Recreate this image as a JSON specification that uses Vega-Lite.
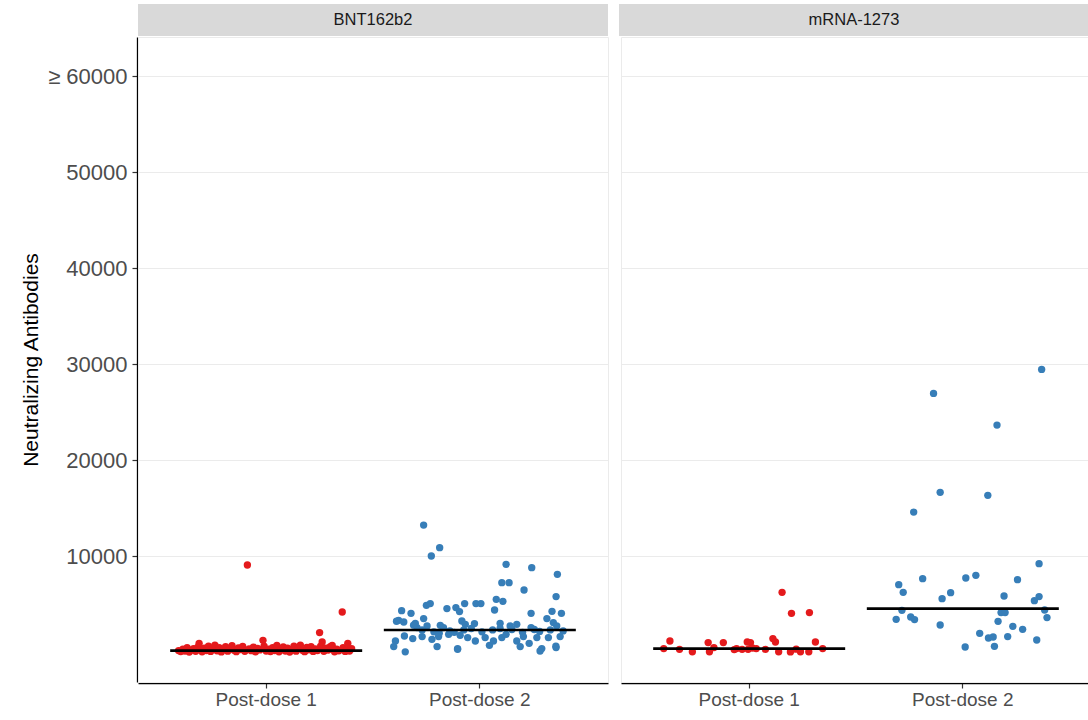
{
  "$schema": "https://vega.github.io/schema/vega-lite/v6.json",
  "padding": {"top": 4, "left": 20, "right": 0, "bottom": 0},
  "background": "white",
  "spacing": 0,
  "config": {
    "font": "Arial",
    "view": {"stroke": "#ebebeb"},
    "concat": {"spacing": 0}
  },
  "datasets": {
    "strip": [{"v": "BNT162b2"}, {"v": "mRNA-1273"}],
    "main": [
      {"v": "BNT162b2", "d": "Post-dose 1", "m": 150},
      {"v": "BNT162b2", "d": "Post-dose 2", "m": 2292},
      {"v": "mRNA-1273", "d": "Post-dose 1", "m": 354},
      {"v": "mRNA-1273", "d": "Post-dose 2", "m": 4521},

      {"v": "BNT162b2", "d": "Post-dose 1", "j": -0.41, "y": 150},
      {"v": "BNT162b2", "d": "Post-dose 1", "j": -0.40, "y": 50},
      {"v": "BNT162b2", "d": "Post-dose 1", "j": -0.39, "y": 300},
      {"v": "BNT162b2", "d": "Post-dose 1", "j": -0.38, "y": 100},
      {"v": "BNT162b2", "d": "Post-dose 1", "j": -0.37, "y": 450},
      {"v": "BNT162b2", "d": "Post-dose 1", "j": -0.36, "y": 0},
      {"v": "BNT162b2", "d": "Post-dose 1", "j": -0.35, "y": 200},
      {"v": "BNT162b2", "d": "Post-dose 1", "j": -0.34, "y": 350},
      {"v": "BNT162b2", "d": "Post-dose 1", "j": -0.33, "y": 80},
      {"v": "BNT162b2", "d": "Post-dose 1", "j": -0.32, "y": 500},
      {"v": "BNT162b2", "d": "Post-dose 1", "j": -0.314, "y": 906},
      {"v": "BNT162b2", "d": "Post-dose 1", "j": -0.31, "y": 250},
      {"v": "BNT162b2", "d": "Post-dose 1", "j": -0.30, "y": 30},
      {"v": "BNT162b2", "d": "Post-dose 1", "j": -0.29, "y": 400},
      {"v": "BNT162b2", "d": "Post-dose 1", "j": -0.28, "y": 150},
      {"v": "BNT162b2", "d": "Post-dose 1", "j": -0.27, "y": 600},
      {"v": "BNT162b2", "d": "Post-dose 1", "j": -0.26, "y": 60},
      {"v": "BNT162b2", "d": "Post-dose 1", "j": -0.25, "y": 300},
      {"v": "BNT162b2", "d": "Post-dose 1", "j": -0.24, "y": 700},
      {"v": "BNT162b2", "d": "Post-dose 1", "j": -0.23, "y": 120},
      {"v": "BNT162b2", "d": "Post-dose 1", "j": -0.22, "y": 450},
      {"v": "BNT162b2", "d": "Post-dose 1", "j": -0.21, "y": 10},
      {"v": "BNT162b2", "d": "Post-dose 1", "j": -0.20, "y": 250},
      {"v": "BNT162b2", "d": "Post-dose 1", "j": -0.19, "y": 550},
      {"v": "BNT162b2", "d": "Post-dose 1", "j": -0.18, "y": 90},
      {"v": "BNT162b2", "d": "Post-dose 1", "j": -0.17, "y": 350},
      {"v": "BNT162b2", "d": "Post-dose 1", "j": -0.16, "y": 650},
      {"v": "BNT162b2", "d": "Post-dose 1", "j": -0.15, "y": 180},
      {"v": "BNT162b2", "d": "Post-dose 1", "j": -0.14, "y": 40},
      {"v": "BNT162b2", "d": "Post-dose 1", "j": -0.13, "y": 420},
      {"v": "BNT162b2", "d": "Post-dose 1", "j": -0.12, "y": 260},
      {"v": "BNT162b2", "d": "Post-dose 1", "j": -0.11, "y": 580},
      {"v": "BNT162b2", "d": "Post-dose 1", "j": -0.10, "y": 70},
      {"v": "BNT162b2", "d": "Post-dose 1", "j": -0.088, "y": 9062},
      {"v": "BNT162b2", "d": "Post-dose 1", "j": -0.08, "y": 320},
      {"v": "BNT162b2", "d": "Post-dose 1", "j": -0.07, "y": 140},
      {"v": "BNT162b2", "d": "Post-dose 1", "j": -0.06, "y": 500},
      {"v": "BNT162b2", "d": "Post-dose 1", "j": -0.05, "y": 20},
      {"v": "BNT162b2", "d": "Post-dose 1", "j": -0.04, "y": 380},
      {"v": "BNT162b2", "d": "Post-dose 1", "j": -0.03, "y": 220},
      {"v": "BNT162b2", "d": "Post-dose 1", "j": -0.015, "y": 1219},
      {"v": "BNT162b2", "d": "Post-dose 1", "j": -0.01, "y": 600},
      {"v": "BNT162b2", "d": "Post-dose 1", "j": 0.0, "y": 100},
      {"v": "BNT162b2", "d": "Post-dose 1", "j": 0.01, "y": 300},
      {"v": "BNT162b2", "d": "Post-dose 1", "j": 0.02, "y": 50},
      {"v": "BNT162b2", "d": "Post-dose 1", "j": 0.03, "y": 450},
      {"v": "BNT162b2", "d": "Post-dose 1", "j": 0.04, "y": 160},
      {"v": "BNT162b2", "d": "Post-dose 1", "j": 0.05, "y": 680},
      {"v": "BNT162b2", "d": "Post-dose 1", "j": 0.06, "y": 30},
      {"v": "BNT162b2", "d": "Post-dose 1", "j": 0.07, "y": 240},
      {"v": "BNT162b2", "d": "Post-dose 1", "j": 0.08, "y": 520},
      {"v": "BNT162b2", "d": "Post-dose 1", "j": 0.09, "y": 110},
      {"v": "BNT162b2", "d": "Post-dose 1", "j": 0.10, "y": 400},
      {"v": "BNT162b2", "d": "Post-dose 1", "j": 0.11, "y": 0},
      {"v": "BNT162b2", "d": "Post-dose 1", "j": 0.12, "y": 280},
      {"v": "BNT162b2", "d": "Post-dose 1", "j": 0.13, "y": 620},
      {"v": "BNT162b2", "d": "Post-dose 1", "j": 0.14, "y": 90},
      {"v": "BNT162b2", "d": "Post-dose 1", "j": 0.15, "y": 360},
      {"v": "BNT162b2", "d": "Post-dose 1", "j": 0.16, "y": 700},
      {"v": "BNT162b2", "d": "Post-dose 1", "j": 0.17, "y": 180},
      {"v": "BNT162b2", "d": "Post-dose 1", "j": 0.18, "y": 40},
      {"v": "BNT162b2", "d": "Post-dose 1", "j": 0.19, "y": 480},
      {"v": "BNT162b2", "d": "Post-dose 1", "j": 0.20, "y": 230},
      {"v": "BNT162b2", "d": "Post-dose 1", "j": 0.21, "y": 560},
      {"v": "BNT162b2", "d": "Post-dose 1", "j": 0.22, "y": 60},
      {"v": "BNT162b2", "d": "Post-dose 1", "j": 0.23, "y": 330},
      {"v": "BNT162b2", "d": "Post-dose 1", "j": 0.24, "y": 150},
      {"v": "BNT162b2", "d": "Post-dose 1", "j": 0.25, "y": 2021},
      {"v": "BNT162b2", "d": "Post-dose 1", "j": 0.255, "y": 620},
      {"v": "BNT162b2", "d": "Post-dose 1", "j": 0.262, "y": 1042},
      {"v": "BNT162b2", "d": "Post-dose 1", "j": 0.27, "y": 80},
      {"v": "BNT162b2", "d": "Post-dose 1", "j": 0.28, "y": 400},
      {"v": "BNT162b2", "d": "Post-dose 1", "j": 0.29, "y": 200},
      {"v": "BNT162b2", "d": "Post-dose 1", "j": 0.30, "y": 550},
      {"v": "BNT162b2", "d": "Post-dose 1", "j": 0.309, "y": 698},
      {"v": "BNT162b2", "d": "Post-dose 1", "j": 0.32, "y": 20},
      {"v": "BNT162b2", "d": "Post-dose 1", "j": 0.33, "y": 300},
      {"v": "BNT162b2", "d": "Post-dose 1", "j": 0.34, "y": 120},
      {"v": "BNT162b2", "d": "Post-dose 1", "j": 0.356, "y": 4167},
      {"v": "BNT162b2", "d": "Post-dose 1", "j": 0.36, "y": 450},
      {"v": "BNT162b2", "d": "Post-dose 1", "j": 0.37, "y": 60},
      {"v": "BNT162b2", "d": "Post-dose 1", "j": 0.38, "y": 250},
      {"v": "BNT162b2", "d": "Post-dose 1", "j": 0.382, "y": 906},
      {"v": "BNT162b2", "d": "Post-dose 1", "j": 0.39, "y": 100},
      {"v": "BNT162b2", "d": "Post-dose 1", "j": 0.40, "y": 350},

      {"v": "BNT162b2", "d": "Post-dose 2", "j": -0.263, "y": 13229},
      {"v": "BNT162b2", "d": "Post-dose 2", "j": -0.188, "y": 10875},
      {"v": "BNT162b2", "d": "Post-dose 2", "j": -0.227, "y": 10000},
      {"v": "BNT162b2", "d": "Post-dose 2", "j": 0.123, "y": 9135},
      {"v": "BNT162b2", "d": "Post-dose 2", "j": 0.243, "y": 8792},
      {"v": "BNT162b2", "d": "Post-dose 2", "j": 0.363, "y": 8094},
      {"v": "BNT162b2", "d": "Post-dose 2", "j": 0.103, "y": 7229},
      {"v": "BNT162b2", "d": "Post-dose 2", "j": 0.137, "y": 7229},
      {"v": "BNT162b2", "d": "Post-dose 2", "j": 0.207, "y": 6458},
      {"v": "BNT162b2", "d": "Post-dose 2", "j": 0.357, "y": 5771},
      {"v": "BNT162b2", "d": "Post-dose 2", "j": 0.077, "y": 5490},
      {"v": "BNT162b2", "d": "Post-dose 2", "j": 0.108, "y": 5281},
      {"v": "BNT162b2", "d": "Post-dose 2", "j": -0.25, "y": 4865},
      {"v": "BNT162b2", "d": "Post-dose 2", "j": -0.232, "y": 5042},
      {"v": "BNT162b2", "d": "Post-dose 2", "j": -0.071, "y": 5042},
      {"v": "BNT162b2", "d": "Post-dose 2", "j": -0.018, "y": 5042},
      {"v": "BNT162b2", "d": "Post-dose 2", "j": 0.005, "y": 5042},
      {"v": "BNT162b2", "d": "Post-dose 2", "j": -0.112, "y": 4625},
      {"v": "BNT162b2", "d": "Post-dose 2", "j": -0.154, "y": 4521},
      {"v": "BNT162b2", "d": "Post-dose 2", "j": 0.069, "y": 4375},
      {"v": "BNT162b2", "d": "Post-dose 2", "j": -0.366, "y": 4312},
      {"v": "BNT162b2", "d": "Post-dose 2", "j": -0.322, "y": 4031},
      {"v": "BNT162b2", "d": "Post-dose 2", "j": -0.095, "y": 4208},
      {"v": "BNT162b2", "d": "Post-dose 2", "j": 0.24, "y": 4031},
      {"v": "BNT162b2", "d": "Post-dose 2", "j": 0.338, "y": 4240},
      {"v": "BNT162b2", "d": "Post-dose 2", "j": 0.382, "y": 4031},
      {"v": "BNT162b2", "d": "Post-dose 2", "j": -0.38, "y": 3302},
      {"v": "BNT162b2", "d": "Post-dose 2", "j": -0.356, "y": 3125},
      {"v": "BNT162b2", "d": "Post-dose 2", "j": -0.263, "y": 3479},
      {"v": "BNT162b2", "d": "Post-dose 2", "j": -0.302, "y": 2990},
      {"v": "BNT162b2", "d": "Post-dose 2", "j": -0.084, "y": 3229},
      {"v": "BNT162b2", "d": "Post-dose 2", "j": -0.068, "y": 2885},
      {"v": "BNT162b2", "d": "Post-dose 2", "j": -0.025, "y": 2958},
      {"v": "BNT162b2", "d": "Post-dose 2", "j": 0.314, "y": 3479},
      {"v": "BNT162b2", "d": "Post-dose 2", "j": 0.344, "y": 3062},
      {"v": "BNT162b2", "d": "Post-dose 2", "j": 0.36, "y": 2708},
      {"v": "BNT162b2", "d": "Post-dose 2", "j": 0.095, "y": 2990},
      {"v": "BNT162b2", "d": "Post-dose 2", "j": 0.142, "y": 2708},
      {"v": "BNT162b2", "d": "Post-dose 2", "j": 0.173, "y": 2885},
      {"v": "BNT162b2", "d": "Post-dose 2", "j": 0.24, "y": 2542},
      {"v": "BNT162b2", "d": "Post-dose 2", "j": -0.294, "y": 2542},
      {"v": "BNT162b2", "d": "Post-dose 2", "j": -0.247, "y": 2708},
      {"v": "BNT162b2", "d": "Post-dose 2", "j": -0.185, "y": 2781},
      {"v": "BNT162b2", "d": "Post-dose 2", "j": -0.17, "y": 2542},
      {"v": "BNT162b2", "d": "Post-dose 2", "j": -0.39, "y": 3200},
      {"v": "BNT162b2", "d": "Post-dose 2", "j": -0.31, "y": 2800},
      {"v": "BNT162b2", "d": "Post-dose 2", "j": -0.27, "y": 2300},
      {"v": "BNT162b2", "d": "Post-dose 2", "j": -0.215, "y": 2100},
      {"v": "BNT162b2", "d": "Post-dose 2", "j": -0.19, "y": 1950},
      {"v": "BNT162b2", "d": "Post-dose 2", "j": -0.14, "y": 2200},
      {"v": "BNT162b2", "d": "Post-dose 2", "j": -0.12, "y": 2050},
      {"v": "BNT162b2", "d": "Post-dose 2", "j": -0.075, "y": 2300},
      {"v": "BNT162b2", "d": "Post-dose 2", "j": -0.04, "y": 2450},
      {"v": "BNT162b2", "d": "Post-dose 2", "j": 0.01, "y": 2100},
      {"v": "BNT162b2", "d": "Post-dose 2", "j": 0.06, "y": 2300},
      {"v": "BNT162b2", "d": "Post-dose 2", "j": 0.095, "y": 2450},
      {"v": "BNT162b2", "d": "Post-dose 2", "j": 0.15, "y": 2350},
      {"v": "BNT162b2", "d": "Post-dose 2", "j": 0.2, "y": 2050},
      {"v": "BNT162b2", "d": "Post-dose 2", "j": 0.255, "y": 2350},
      {"v": "BNT162b2", "d": "Post-dose 2", "j": 0.28, "y": 2150},
      {"v": "BNT162b2", "d": "Post-dose 2", "j": 0.33, "y": 2300},
      {"v": "BNT162b2", "d": "Post-dose 2", "j": 0.39, "y": 2200},
      {"v": "BNT162b2", "d": "Post-dose 2", "j": -0.395, "y": 1146},
      {"v": "BNT162b2", "d": "Post-dose 2", "j": -0.403, "y": 563},
      {"v": "BNT162b2", "d": "Post-dose 2", "j": -0.349, "y": 20},
      {"v": "BNT162b2", "d": "Post-dose 2", "j": -0.353, "y": 1667},
      {"v": "BNT162b2", "d": "Post-dose 2", "j": -0.314, "y": 1396},
      {"v": "BNT162b2", "d": "Post-dose 2", "j": -0.27, "y": 1604},
      {"v": "BNT162b2", "d": "Post-dose 2", "j": -0.224, "y": 1323},
      {"v": "BNT162b2", "d": "Post-dose 2", "j": -0.2, "y": 563},
      {"v": "BNT162b2", "d": "Post-dose 2", "j": -0.193, "y": 1604},
      {"v": "BNT162b2", "d": "Post-dose 2", "j": -0.146, "y": 1844},
      {"v": "BNT162b2", "d": "Post-dose 2", "j": -0.104, "y": 354},
      {"v": "BNT162b2", "d": "Post-dose 2", "j": -0.092, "y": 1740},
      {"v": "BNT162b2", "d": "Post-dose 2", "j": -0.057, "y": 1500},
      {"v": "BNT162b2", "d": "Post-dose 2", "j": -0.021, "y": 1146},
      {"v": "BNT162b2", "d": "Post-dose 2", "j": 0.025, "y": 1500},
      {"v": "BNT162b2", "d": "Post-dose 2", "j": 0.045, "y": 698},
      {"v": "BNT162b2", "d": "Post-dose 2", "j": 0.064, "y": 1146},
      {"v": "BNT162b2", "d": "Post-dose 2", "j": 0.103, "y": 1500},
      {"v": "BNT162b2", "d": "Post-dose 2", "j": 0.123, "y": 1844},
      {"v": "BNT162b2", "d": "Post-dose 2", "j": 0.173, "y": 1146},
      {"v": "BNT162b2", "d": "Post-dose 2", "j": 0.189, "y": 563},
      {"v": "BNT162b2", "d": "Post-dose 2", "j": 0.204, "y": 1604},
      {"v": "BNT162b2", "d": "Post-dose 2", "j": 0.231, "y": 906},
      {"v": "BNT162b2", "d": "Post-dose 2", "j": 0.267, "y": 1500},
      {"v": "BNT162b2", "d": "Post-dose 2", "j": 0.29, "y": 354},
      {"v": "BNT162b2", "d": "Post-dose 2", "j": 0.321, "y": 1500},
      {"v": "BNT162b2", "d": "Post-dose 2", "j": 0.357, "y": 458},
      {"v": "BNT162b2", "d": "Post-dose 2", "j": 0.376, "y": 1604},
      {"v": "BNT162b2", "d": "Post-dose 2", "j": -0.104, "y": 281},
      {"v": "BNT162b2", "d": "Post-dose 2", "j": 0.282, "y": 104},
      {"v": "BNT162b2", "d": "Post-dose 2", "j": 0.356, "y": 600},

      {"v": "mRNA-1273", "d": "Post-dose 1", "j": 0.154, "y": 6219},
      {"v": "mRNA-1273", "d": "Post-dose 1", "j": 0.198, "y": 4031},
      {"v": "mRNA-1273", "d": "Post-dose 1", "j": 0.282, "y": 4104},
      {"v": "mRNA-1273", "d": "Post-dose 1", "j": -0.371, "y": 1146},
      {"v": "mRNA-1273", "d": "Post-dose 1", "j": -0.40, "y": 354},
      {"v": "mRNA-1273", "d": "Post-dose 1", "j": -0.326, "y": 281},
      {"v": "mRNA-1273", "d": "Post-dose 1", "j": -0.266, "y": 20},
      {"v": "mRNA-1273", "d": "Post-dose 1", "j": -0.192, "y": 979},
      {"v": "mRNA-1273", "d": "Post-dose 1", "j": -0.186, "y": 30},
      {"v": "mRNA-1273", "d": "Post-dose 1", "j": -0.121, "y": 979},
      {"v": "mRNA-1273", "d": "Post-dose 1", "j": -0.165, "y": 458},
      {"v": "mRNA-1273", "d": "Post-dose 1", "j": -0.059, "y": 354},
      {"v": "mRNA-1273", "d": "Post-dose 1", "j": -0.033, "y": 281},
      {"v": "mRNA-1273", "d": "Post-dose 1", "j": -0.009, "y": 1042},
      {"v": "mRNA-1273", "d": "Post-dose 1", "j": 0.006, "y": 979},
      {"v": "mRNA-1273", "d": "Post-dose 1", "j": -0.005, "y": 281},
      {"v": "mRNA-1273", "d": "Post-dose 1", "j": 0.033, "y": 354},
      {"v": "mRNA-1273", "d": "Post-dose 1", "j": 0.076, "y": 281},
      {"v": "mRNA-1273", "d": "Post-dose 1", "j": 0.111, "y": 1396},
      {"v": "mRNA-1273", "d": "Post-dose 1", "j": 0.123, "y": 1042},
      {"v": "mRNA-1273", "d": "Post-dose 1", "j": 0.138, "y": 20},
      {"v": "mRNA-1273", "d": "Post-dose 1", "j": 0.193, "y": 10},
      {"v": "mRNA-1273", "d": "Post-dose 1", "j": 0.24, "y": 30},
      {"v": "mRNA-1273", "d": "Post-dose 1", "j": 0.279, "y": 20},
      {"v": "mRNA-1273", "d": "Post-dose 1", "j": 0.31, "y": 1042},
      {"v": "mRNA-1273", "d": "Post-dose 1", "j": 0.344, "y": 354},
      {"v": "mRNA-1273", "d": "Post-dose 1", "j": -0.07, "y": 250},
      {"v": "mRNA-1273", "d": "Post-dose 1", "j": 0.015, "y": 420},
      {"v": "mRNA-1273", "d": "Post-dose 1", "j": 0.22, "y": 300},

      {"v": "mRNA-1273", "d": "Post-dose 2", "j": 0.369, "y": 29448},
      {"v": "mRNA-1273", "d": "Post-dose 2", "j": -0.137, "y": 26948},
      {"v": "mRNA-1273", "d": "Post-dose 2", "j": 0.16, "y": 23646},
      {"v": "mRNA-1273", "d": "Post-dose 2", "j": -0.106, "y": 16635},
      {"v": "mRNA-1273", "d": "Post-dose 2", "j": 0.117, "y": 16323},
      {"v": "mRNA-1273", "d": "Post-dose 2", "j": -0.23, "y": 14583},
      {"v": "mRNA-1273", "d": "Post-dose 2", "j": 0.357, "y": 9208},
      {"v": "mRNA-1273", "d": "Post-dose 2", "j": -0.30, "y": 7021},
      {"v": "mRNA-1273", "d": "Post-dose 2", "j": -0.188, "y": 7646},
      {"v": "mRNA-1273", "d": "Post-dose 2", "j": -0.279, "y": 6219},
      {"v": "mRNA-1273", "d": "Post-dose 2", "j": 0.014, "y": 7708},
      {"v": "mRNA-1273", "d": "Post-dose 2", "j": 0.061, "y": 7990},
      {"v": "mRNA-1273", "d": "Post-dose 2", "j": 0.256, "y": 7542},
      {"v": "mRNA-1273", "d": "Post-dose 2", "j": -0.057, "y": 6187},
      {"v": "mRNA-1273", "d": "Post-dose 2", "j": -0.097, "y": 5562},
      {"v": "mRNA-1273", "d": "Post-dose 2", "j": 0.193, "y": 5833},
      {"v": "mRNA-1273", "d": "Post-dose 2", "j": 0.357, "y": 5771},
      {"v": "mRNA-1273", "d": "Post-dose 2", "j": 0.335, "y": 5354},
      {"v": "mRNA-1273", "d": "Post-dose 2", "j": -0.285, "y": 4344},
      {"v": "mRNA-1273", "d": "Post-dose 2", "j": 0.383, "y": 4375},
      {"v": "mRNA-1273", "d": "Post-dose 2", "j": -0.312, "y": 3406},
      {"v": "mRNA-1273", "d": "Post-dose 2", "j": -0.244, "y": 3646},
      {"v": "mRNA-1273", "d": "Post-dose 2", "j": -0.226, "y": 3375},
      {"v": "mRNA-1273", "d": "Post-dose 2", "j": 0.179, "y": 4104},
      {"v": "mRNA-1273", "d": "Post-dose 2", "j": 0.198, "y": 4104},
      {"v": "mRNA-1273", "d": "Post-dose 2", "j": 0.394, "y": 3583},
      {"v": "mRNA-1273", "d": "Post-dose 2", "j": 0.165, "y": 3198},
      {"v": "mRNA-1273", "d": "Post-dose 2", "j": -0.106, "y": 2813},
      {"v": "mRNA-1273", "d": "Post-dose 2", "j": 0.234, "y": 2677},
      {"v": "mRNA-1273", "d": "Post-dose 2", "j": 0.28, "y": 2365},
      {"v": "mRNA-1273", "d": "Post-dose 2", "j": 0.079, "y": 1948},
      {"v": "mRNA-1273", "d": "Post-dose 2", "j": 0.12, "y": 1458},
      {"v": "mRNA-1273", "d": "Post-dose 2", "j": 0.142, "y": 1562},
      {"v": "mRNA-1273", "d": "Post-dose 2", "j": 0.21, "y": 1604},
      {"v": "mRNA-1273", "d": "Post-dose 2", "j": 0.346, "y": 1250},
      {"v": "mRNA-1273", "d": "Post-dose 2", "j": 0.011, "y": 521},
      {"v": "mRNA-1273", "d": "Post-dose 2", "j": 0.148, "y": 594}
    ]
  },
  "vconcat": [
    {
      "data": {"name": "strip"},
      "facet": {"column": {"field": "v", "type": "nominal", "header": {"title": null, "labels": false}}},
      "spacing": 11,
      "spec": {
        "width": 470,
        "height": 32,
        "view": {"fill": "#d9d9d9", "stroke": null},
        "mark": {"type": "text", "fontSize": 16.5, "color": "#1a1a1a", "font": "Arial"},
        "encoding": {"text": {"field": "v", "type": "nominal"}}
      }
    },
    {
      "data": {"name": "main"},
      "facet": {"column": {"field": "v", "type": "nominal", "header": {"title": null, "labels": false}}},
      "spacing": 11,
      "resolve": {"scale": {"y": "shared", "x": "shared"}},
      "spec": {
        "width": 470,
        "height": 645,
        "encoding": {
          "x": {
            "field": "d",
            "type": "nominal",
            "scale": {"type": "band", "paddingInner": 0, "paddingOuter": 0.1, "domain": ["Post-dose 1", "Post-dose 2"]},
            "axis": {
              "title": null,
              "labelAngle": 0,
              "labelFontSize": 19,
              "labelColor": "#4d4d4d",
              "labelPadding": 2,
              "tickColor": "#333333",
              "tickSize": 5,
              "tickWidth": 1.2,
              "bandPosition": 0.5,
              "domainColor": "#000000",
              "domainWidth": 1.3,
              "grid": false
            }
          }
        },
        "layer": [
          {
            "transform": [{"filter": "isValid(datum.y)"}],
            "mark": {"type": "circle", "size": 54, "opacity": 1},
            "encoding": {
              "xOffset": {"field": "j", "type": "quantitative", "scale": {"domain": [-0.5, 0.5], "zero": false, "nice": false}},
              "y": {
                "field": "y",
                "type": "quantitative",
                "scale": {"domain": [-3125, 64083], "nice": false, "zero": false},
                "axis": {
                  "title": "Neutralizing Antibodies",
                  "titleFontSize": 21,
                  "titleFontWeight": "normal",
                  "titleColor": "#000000",
                  "titlePadding": 6,
                  "values": [10000, 20000, 30000, 40000, 50000, 60000],
                  "labelExpr": "datum.value == 60000 ? '≥ 60000' : format(datum.value, 'd')",
                  "labelFontSize": 22,
                  "labelColor": "#4d4d4d",
                  "labelPadding": 5,
                  "tickColor": "#333333",
                  "tickSize": 5,
                  "tickWidth": 1.2,
                  "domainColor": "#000000",
                  "domainWidth": 1.3,
                  "gridColor": "#ebebeb",
                  "gridWidth": 1.2
                }
              },
              "color": {
                "field": "d",
                "type": "nominal",
                "scale": {"domain": ["Post-dose 1", "Post-dose 2"], "range": ["#e41a1c", "#377eb8"]},
                "legend": null
              }
            }
          },
          {
            "transform": [{"filter": "isValid(datum.m)"}],
            "mark": {"type": "tick", "color": "#000000", "size": 192, "thickness": 2.7, "opacity": 1},
            "encoding": {
              "y": {"field": "m", "type": "quantitative"}
            }
          }
        ]
      }
    }
  ]
}
